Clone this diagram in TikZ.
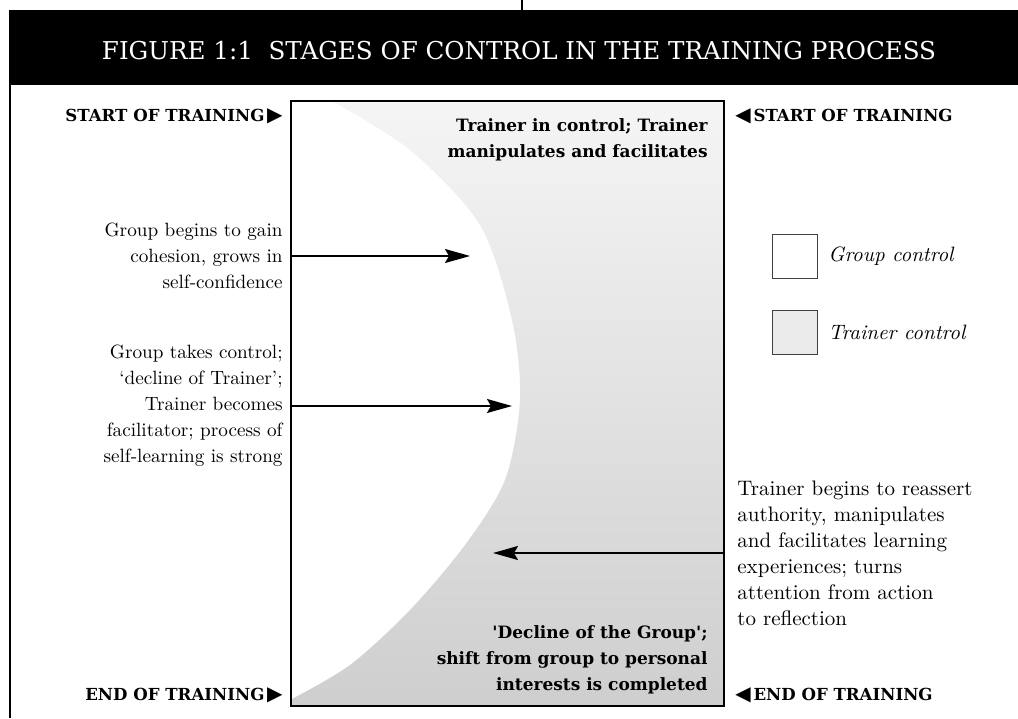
\documentclass[tikz,border=0pt]{standalone}
\usepackage{fontspec}
\newfontfamily\slabfont{DejaVu Serif}
\newfontfamily\symbfont{DejaVu Sans}
\usetikzlibrary{arrows.meta,positioning}
\def\trainerArea{(723,100) -- (330,100) -- plot[smooth] coordinates {(330,100) (410,150) (480,225) (512,320) (520,400) (505,480) (465,545) (410,610) (350,665) (290,700)} -- (290,705) -- (723,705) -- cycle}
\colorlet{trainer area top}{black!4}
\colorlet{trainer area bottom}{black!19}
\tikzset{bodytext/.style={font=\fontsize{10.5}{13}\selectfont, inner sep=0pt},
    lefttext/.style={bodytext, font=\fontsize{9.6}{13}\selectfont},
    boldtext/.style={font=\slabfont\bfseries\fontsize{8.5}{13}\selectfont, inner sep=0pt},
    stagelabel/.style={font=\slabfont\bfseries\fontsize{8.3}{10}\selectfont, inner sep=0pt},
    titletext/.style={font=\slabfont\fontsize{12.3}{14}\selectfont, text=white, inner sep=0pt},
    keytext/.style={font=\itshape\fontsize{10.4}{12}\selectfont, inner sep=0pt},
    keybox/.style={draw=black!75, line width=0.5pt, minimum width=22.5pt, minimum height=22pt, inner sep=0pt},
    stagearrow/.style={-{Stealth[length=12.5pt,width=7pt,inset=2pt]}, line width=0.9pt}}
\newcommand{\rtri}{\,{\symbfont\fontsize{10}{10}\selectfont ▶}}
\newcommand{\ltri}{{\symbfont\fontsize{10}{10}\selectfont ◀}\,}

\begin{document}
\begin{tikzpicture}[x=0.5pt,y=-0.5pt]
    \useasboundingbox (0,0) rectangle (1018,718);
    % heading
    \draw[line width=1pt] (522,0) -- (522,10);
    \fill (10,10) rectangle (1018,85);
    \draw[line width=0.8pt] (10,10) -- (10,718);
    \node[titletext, anchor=base] (title) at (519,59) {FIGURE 1:1\ \ STAGES OF CONTROL IN THE TRAINING PROCESS};
    % stages box
    \shade[top color=trainer area top, bottom color=trainer area bottom] \trainerArea;
    \node[draw, line width=1pt, minimum width=216.5pt, minimum height=302.5pt, anchor=north west, inner sep=0pt] (stagebox) at (290,100) {};
    \node[stagelabel, anchor=base east] (startl) at (283,121) {START OF TRAINING\rtri};
    \node[stagelabel, anchor=base west] (startr) at (735,121) {\ltri START OF TRAINING};
    \node[stagelabel, anchor=base east] (endl) at (283,700) {END OF TRAINING\rtri};
    \node[stagelabel, anchor=base west] (endr) at (735,700) {\ltri END OF TRAINING};
    \node[boldtext, anchor=east, align=right] (trainerin) at (708,140) {Trainer in control; Trainer\\manipulates and facilitates};
    \node[boldtext, anchor=east, align=right] (groupdecl) at (708,660) {'Decline of the Group';\\shift from group to personal\\interests is completed};
    % stages
    \node[lefttext, anchor=east, align=right] (cohesion) at (283,256) {Group begins to gain\\cohesion, grows in\\self-confidence};
    \node[lefttext, anchor=east, align=right] (takes) at (283,406) {Group takes control;\\`decline of Trainer';\\Trainer becomes\\facilitator; process of\\self-learning is strong};
    \node[bodytext, anchor=west, align=left] (reassert) at (737,553) {Trainer begins to reassert\\authority, manipulates\\and facilitates learning\\experiences; turns\\attention from action\\to reflection};
    \coordinate (cohesiontip) at (470,256);
    \coordinate (takestip) at (512,406);
    \coordinate (reasserttip) at (493,553);
    \draw[stagearrow] (cohesiontip -| stagebox.west) -- (cohesiontip);
    \draw[stagearrow] (takestip -| stagebox.west) -- (takestip);
    \draw[stagearrow] (reasserttip -| stagebox.east) -- (reasserttip);
    % key
    \node[keybox] (groupkey) at (795,256) {};
    \node[keybox, fill=black!8] (trainerkey) at (795,332) {};
    \node[keytext, right=5pt of groupkey] (grouptext) {Group control};
    \node[keytext, right=5pt of trainerkey] (trainertext) {Trainer control};
\end{tikzpicture}
\end{document}
